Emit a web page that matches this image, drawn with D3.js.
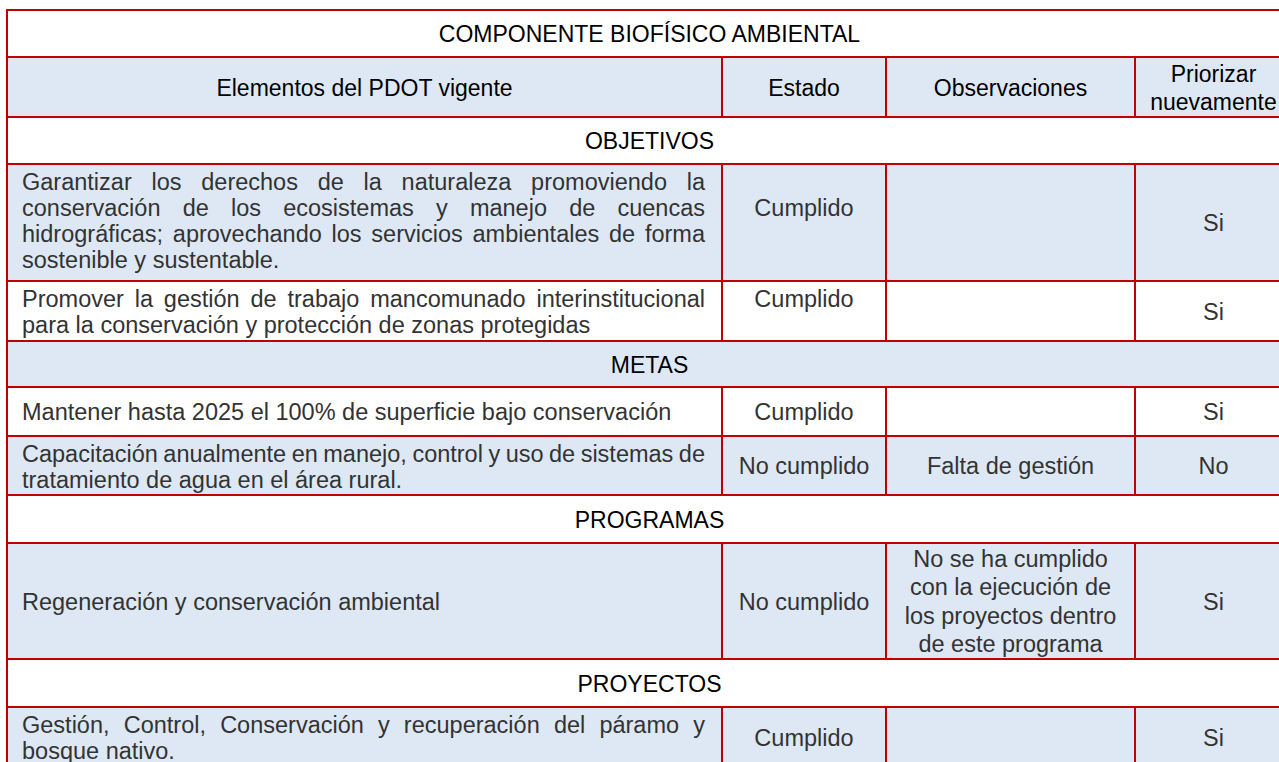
<!DOCTYPE html>
<html><head><meta charset="utf-8">
<script src="https://cdn.jsdelivr.net/npm/d3@7"></script>
<style>html,body{margin:0;padding:0;background:#fff;} svg{display:block;}</style>
</head><body><svg id="chart" width="1279" height="762"></svg>
<script>
// ---------------- DATA ----------------
const title = "COMPONENTE BIOFÍSICO AMBIENTAL";
const columnHeaders = ["Elementos del PDOT vigente", "Estado", "Observaciones", "Priorizar\nnuevamente"];
const sections = ["OBJETIVOS", "METAS", "PROGRAMAS", "PROYECTOS"];
const rowSection = [0, 0, 1, 1, 2, 3];
const elementos = [
  "Garantizar los derechos de la naturaleza promoviendo la\nconservación de los ecosistemas y manejo de cuencas\nhidrográficas; aprovechando los servicios ambientales de forma\nsostenible y sustentable.",
  "Promover la gestión de trabajo mancomunado interinstitucional\npara la conservación y protección de zonas protegidas",
  "Mantener hasta 2025 el 100% de superficie bajo conservación",
  "Capacitación anualmente en manejo, control y uso de sistemas de\ntratamiento de agua en el área rural.",
  "Regeneración y conservación ambiental",
  "Gestión, Control, Conservación y recuperación del páramo y\nbosque nativo."
];
const estados = ["Cumplido", "Cumplido", "Cumplido", "No cumplido", "No cumplido", "Cumplido"];
const observaciones = ["", "", "", "Falta de gestión", "No se ha cumplido\ncon la ejecución de\nlos proyectos dentro\nde este programa", ""];
const priorizar = ["Si", "Si", "Si", "No", "Si", "Si"];

// ---------------- LAYOUT ----------------
const RED = "#c00000", BLUE = "#dde8f4";
const FONT = "'Liberation Sans', Arial, Helvetica, sans-serif";
const colEdges = [7, 722, 886, 1135, 1292];
const tableTop = 10;
const titleH = 47, headerH = 60;
const sectionH = [47, 46, 48, 48];
const itemH = [117, 60, 49, 59, 116, 60];
const LS = 28.5;      // centred multi-line spacing
const LS1 = 26;       // first-column paragraph spacing
const TOP1 = 26;      // first-column first baseline offset

const svg = d3.select("#chart");
const colX = i => colEdges[i];
const tableL = colEdges[0], tableR = colEdges[colEdges.length - 1];
const centerX = (tableL + tableR) / 2;

// build rows
const rows = [];
let y = tableTop;
rows.push({type: "title", y0: y, y1: y + titleH, fill: "#fff"}); y += titleH;
rows.push({type: "header", y0: y, y1: y + headerH, fill: BLUE}); y += headerH;
sections.forEach((s, si) => {
  rows.push({type: "section", text: s, y0: y, y1: y + sectionH[si], fill: (si === 1 ? BLUE : "#fff")}); y += sectionH[si];
  elementos.forEach((e, i) => {
    if (rowSection[i] !== si) return;
    const h = itemH[i];
    rows.push({type: "item", idx: i, y0: y, y1: y + h, fill: null}); y += h;
  });
});
const itemFills = [BLUE, "#fff", "#fff", BLUE, BLUE, BLUE];
rows.forEach(r => { if (r.type === "item") r.fill = itemFills[r.idx]; });

// backgrounds
svg.append("g").selectAll("rect").data(rows).join("rect")
  .attr("x", tableL).attr("y", d => d.y0).attr("width", tableR - tableL).attr("height", d => d.y1 - d.y0)
  .attr("fill", d => d.fill);

const gText = svg.append("g").attr("font-family", FONT);

function measure(txt, size) {
  const t = gText.append("text").attr("font-size", size).text(txt);
  const w = t.node().getComputedTextLength();
  t.remove();
  return w;
}

function centeredLines(lines, cx, cy, size, color, spacing) {
  const n = lines.length;
  lines.forEach((ln, i) => {
    gText.append("text").attr("x", cx).attr("y", cy + 8.5 + (i - (n - 1) / 2) * spacing)
      .attr("text-anchor", "middle").attr("font-size", size).attr("fill", color).text(ln);
  });
}

function justifiedLines(lines, left, right, baseline0, size, color) {
  const W = right - left;
  lines.forEach((ln, i) => {
    const by = baseline0 + i * LS1;
    const words = ln.split(" ");
    if (i === lines.length - 1 || words.length < 2) {
      gText.append("text").attr("x", left).attr("y", by).attr("font-size", size).attr("fill", color).text(ln);
      return;
    }
    const ws = words.map(w => measure(w, size));
    const gap = (W - d3.sum(ws)) / (words.length - 1);
    let cx = left;
    words.forEach((w, k) => {
      gText.append("text").attr("x", cx).attr("y", by).attr("font-size", size).attr("fill", color).text(w);
      cx += ws[k] + gap;
    });
  });
}

const HS = 23, BS = 23.5, BODY = "#333333";
rows.forEach(r => {
  const cy = (r.y0 + r.y1) / 2;
  if (r.type === "title") {
    centeredLines([title], centerX, cy, HS, "#000", LS);
  } else if (r.type === "section") {
    centeredLines([r.text], centerX, cy, HS, "#000", LS);
  } else if (r.type === "header") {
    columnHeaders.forEach((h, c) => {
      centeredLines(h.split("\n"), (colX(c) + colX(c + 1)) / 2, cy, HS, "#000", 28);
    });
  } else {
    const i = r.idx;
    const lines = elementos[i].split("\n");
    if (lines.length === 1) {
      gText.append("text").attr("x", colX(0) + 15).attr("y", cy + 8.5).attr("font-size", BS).attr("fill", BODY).text(lines[0]);
    } else {
      justifiedLines(lines, colX(0) + 15, colX(1) - 17, r.y0 + TOP1, BS, BODY);
    }
    // Estado
    const ex = (colX(1) + colX(2)) / 2;
    if (i === 0) {
      gText.append("text").attr("x", ex).attr("y", r.y0 + TOP1 + LS1).attr("text-anchor", "middle").attr("font-size", BS).attr("fill", BODY).text(estados[i]);
    } else if (i === 1) {
      gText.append("text").attr("x", ex).attr("y", r.y0 + TOP1).attr("text-anchor", "middle").attr("font-size", BS).attr("fill", BODY).text(estados[i]);
    } else {
      centeredLines([estados[i]], ex, cy, BS, BODY, LS);
    }
    if (observaciones[i]) centeredLines(observaciones[i].split("\n"), (colX(2) + colX(3)) / 2, cy, BS, BODY, LS);
    centeredLines([priorizar[i]], (colX(3) + colX(4)) / 2, cy, BS, BODY, LS);
  }
});

// grid lines
const gl = svg.append("g").attr("stroke", RED).attr("stroke-width", 2).attr("fill", "none");
const hY = [rows[0].y0].concat(rows.map(r => r.y1));
gl.selectAll("line.h").data(hY).join("line").attr("class", "h")
  .attr("x1", tableL - 1).attr("x2", tableR + 1).attr("y1", d => d).attr("y2", d => d);
gl.selectAll("line.o").data([tableL, tableR]).join("line").attr("class", "o")
  .attr("x1", d => d).attr("x2", d => d).attr("y1", hY[0]).attr("y2", hY[hY.length - 1]);
const inner = [];
rows.filter(r => r.type === "header" || r.type === "item").forEach(r => {
  [1, 2, 3].forEach(c => inner.push({x: colX(c), y0: r.y0, y1: r.y1}));
});
gl.selectAll("line.v").data(inner).join("line").attr("class", "v")
  .attr("x1", d => d.x).attr("x2", d => d.x).attr("y1", d => d.y0).attr("y2", d => d.y1);
</script>
</body></html>
